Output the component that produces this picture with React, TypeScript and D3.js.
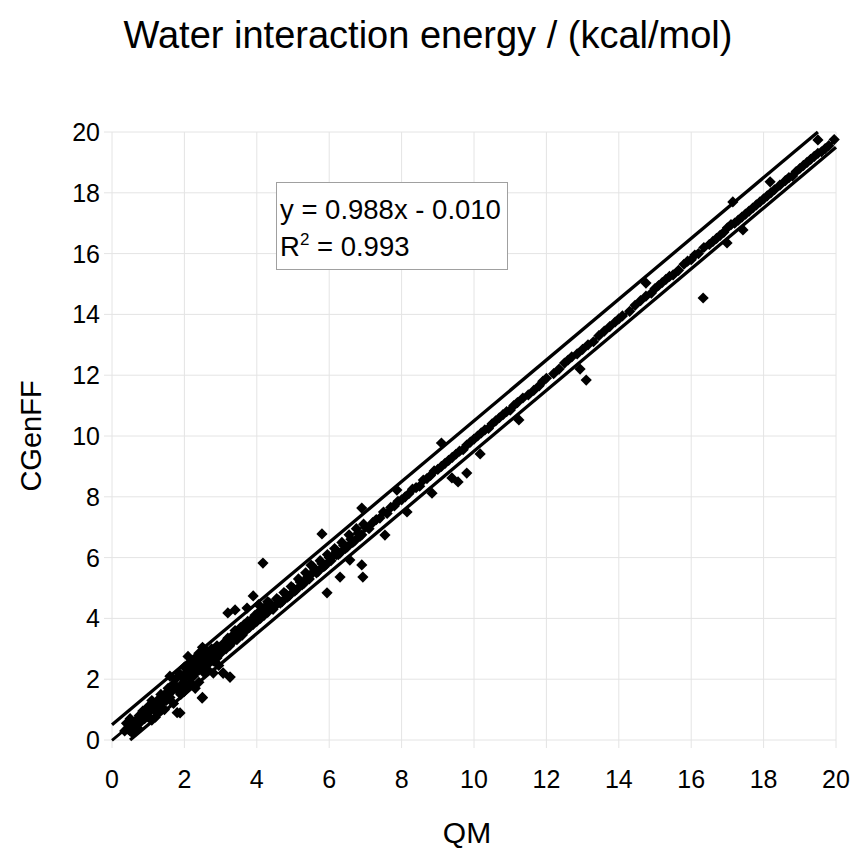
import React from "react";
import * as d3 from "d3";

const xTicks = [0, 2, 4, 6, 8, 10, 12, 14, 16, 18, 20];
const yTicks = [0, 2, 4, 6, 8, 10, 12, 14, 16, 18, 20];

const qmValues = [
  0.35, 0.4, 0.45, 0.5, 0.55, 0.6, 0.65, 0.7, 0.75, 0.8, 0.85, 0.9, 0.95, 1.0, 1.0, 1.05, 1.1, 1.1, 1.15, 1.2, 1.25, 1.3, 1.3, 1.35, 1.4, 1.45, 1.5, 1.5,
  1.55, 1.6, 1.6, 1.65, 1.7, 1.7, 1.75, 1.8, 1.8, 1.85, 1.9, 1.9, 1.95, 2.0, 2.0, 2.0, 2.05, 2.1, 2.1, 2.15, 2.2, 2.2, 2.2, 2.25, 2.3, 2.3, 2.3, 2.35,
  2.4, 2.4, 2.4, 2.45, 2.5, 2.5, 2.5, 2.55, 2.55, 2.6, 2.6, 2.65, 2.7, 2.7, 2.75, 2.8, 2.8, 2.85, 2.9, 2.9, 2.95, 3.0, 3.0, 3.07, 3.1, 3.15, 3.2, 3.25,
  3.26, 3.3, 3.35, 3.4, 3.45, 3.5, 3.55, 3.6, 3.65, 3.7, 3.75, 3.8, 3.85, 3.9, 3.95, 4.0, 4.05, 4.1, 4.15, 4.2, 4.25, 4.3, 4.4, 4.5, 4.6, 4.7, 4.8, 4.9,
  5.0, 5.1, 5.2, 5.3, 5.4, 5.5, 5.6, 5.7, 5.8, 5.9, 6.0, 6.1, 6.2, 6.3, 6.4, 6.5, 6.6, 6.7, 6.8, 6.9, 7.0, 7.1, 7.2, 7.4, 7.5, 7.6, 7.8, 7.9, 8.0, 8.2,
  8.4, 8.5, 8.6, 8.8, 8.9, 9.0, 9.2, 9.3, 9.4, 9.5, 9.7, 9.8, 10.0, 10.2, 10.4, 10.6, 10.8, 11.0, 11.2, 11.5, 11.8, 12.0, 12.2, 12.5, 12.7, 13.0, 13.3,
  13.6, 13.9, 14.1, 14.3, 14.6, 14.9, 15.1, 15.3, 15.5, 15.8, 16.0, 16.2, 16.5, 16.7, 16.9, 17.1, 17.3, 17.5, 17.7, 17.9, 18.1, 18.3, 18.6, 18.8, 19.0,
  19.2, 19.4, 19.6, 19.8, 19.95,
  16.33, 13.1, 12.93, 11.24, 10.17, 9.1, 9.8, 9.56, 9.39, 8.84, 5.8, 6.9, 7.87, 8.15, 7.54, 6.9, 6.3, 6.93, 6.57, 5.94, 4.17, 3.9, 3.2, 3.4, 3.73,
  2.49, 1.88, 3.26, 3.07, 19.5, 18.18, 17.15, 17.43, 16.99, 14.75, 4.05, 4.3, 5.5, 6.2, 1.2, 0.5, 2.35, 2.6,
  4.35, 4.45, 4.55, 4.65, 4.75, 4.85, 4.95, 5.05, 5.15, 5.25, 5.35, 5.45, 5.55, 5.65, 5.75, 5.85, 5.95, 6.05, 6.15, 6.25, 6.35, 6.45, 6.55, 6.65,
  6.75, 6.85, 6.95, 7.3, 7.7, 8.1, 8.3, 8.7, 9.1, 9.6, 9.9, 10.1, 10.3, 10.5, 10.7, 10.9, 11.1, 11.35, 11.65, 11.9, 12.35, 12.6, 12.85, 13.15, 13.45,
  13.75, 14.0, 14.45, 14.75, 15.0, 15.2, 15.4, 15.65, 15.9, 16.1, 16.35, 16.6, 16.8, 17.0, 17.2, 17.4, 17.6, 17.8, 18.0, 18.2, 18.45, 18.7, 18.9, 19.1,
  19.3, 19.5, 19.7,
];

const cgenffValues = [
  0.3, 0.55, 0.35, 0.7, 0.25, 0.5, 0.62, 0.4, 0.8, 0.6, 0.95, 0.7, 0.85, 1.1, 0.75, 0.95, 1.3, 0.65, 1.05, 1.2, 0.9, 1.35, 1.1, 1.5, 1.25, 1.0, 1.55, 1.3,
  1.7, 1.4, 2.1, 1.6, 1.85, 1.2, 2.0, 1.65, 0.9, 2.2, 1.8, 1.5, 2.05, 2.4, 1.9, 1.6, 2.2, 2.75, 1.75, 2.05, 2.5, 2.3, 1.85, 2.1, 2.6, 2.2, 1.7, 2.45,
  2.85, 2.3, 1.9, 2.6, 3.05, 2.45, 1.4, 2.7, 2.2, 2.5, 2.9, 2.3, 2.75, 2.55, 3.0, 2.6, 2.2, 2.9, 3.1, 2.7, 2.45, 3.0, 2.85, 2.2, 3.2, 3.0, 3.35, 3.1,
  2.07, 3.4, 3.25, 3.6, 3.3, 3.5, 3.7, 3.45, 3.8, 3.6, 3.9, 3.7, 3.95, 3.8, 4.1, 3.9, 4.2, 4.0, 4.3, 4.1, 4.4, 4.2, 4.45, 4.4, 4.6, 4.55, 4.8, 4.75,
  5.0, 4.95, 5.2, 5.15, 5.35, 5.45, 5.6, 5.55, 5.8, 5.75, 6.0, 6.05, 6.2, 6.15, 6.4, 6.35, 6.6, 6.55, 6.8, 6.75, 7.0, 6.95, 7.15, 7.3, 7.5, 7.45, 7.7, 7.85, 7.9, 8.1,
  8.3, 8.35, 8.55, 8.7, 8.85, 8.9, 9.1, 9.2, 9.3, 9.4, 9.55, 9.7, 9.9, 10.1, 10.25, 10.5, 10.7, 10.85, 11.1, 11.35, 11.65, 11.9, 12.05, 12.4, 12.6, 12.85, 13.1,
  13.45, 13.75, 13.95, 14.1, 14.45, 14.7, 14.95, 15.15, 15.3, 15.65, 15.8, 16.0, 16.3, 16.5, 16.7, 16.95, 17.1, 17.3, 17.5, 17.7, 17.9, 18.1, 18.4, 18.55, 18.8,
  19.0, 19.2, 19.35, 19.55, 19.75,
  14.54, 11.84, 12.2, 10.53, 9.41, 9.77, 8.78, 8.49, 8.62, 8.12, 6.78, 7.63, 8.22, 7.5, 6.74, 5.76, 5.36, 5.36, 5.92, 4.84, 5.82, 4.74, 4.18, 4.28, 4.34,
  1.38, 0.89, 2.07, 2.2, 19.74, 18.36, 17.7, 16.78, 16.35, 15.03, 4.45, 4.55, 5.75, 6.1, 0.75, 0.3, 2.7, 2.95,
  4.5, 4.3, 4.65, 4.5, 4.85, 4.7, 5.05, 4.9, 5.3, 5.1, 5.5, 5.3, 5.7, 5.5, 5.9, 5.7, 6.1, 5.9, 6.3, 6.1, 6.5, 6.3, 6.75, 6.5,
  6.95, 6.7, 7.1, 7.25, 7.65, 8.0, 8.25, 8.6, 9.0, 9.5, 9.8, 10.0, 10.2, 10.4, 10.6, 10.8, 11.0, 11.25, 11.5, 11.8, 12.2, 12.5, 12.7, 13.0, 13.3,
  13.6, 13.85, 14.3, 14.6, 14.85, 15.05, 15.25, 15.45, 15.75, 15.95, 16.2, 16.4, 16.6, 16.85, 17.0, 17.2, 17.4, 17.6, 17.8, 18.0, 18.25, 18.5, 18.7, 18.9,
  19.1, 19.3, 19.45,
];

const trendSlope = 0.988;
const trendIntercept = -0.01;
const bandOffset = 0.5;

const W = 853;
const H = 848;
const m = { left: 112, right: 836, top: 132, bottom: 740 };

export default function App() {
  const x = d3.scaleLinear().domain([0, 20]).range([m.left, m.right]);
  const y = d3.scaleLinear().domain([0, 20]).range([m.bottom, m.top]);
  const line = d3
    .line<[number, number]>()
    .x((d) => x(d[0]))
    .y((d) => y(d[1]));
  const pts = qmValues.map((q, i) => [q, cgenffValues[i]] as [number, number]);
  const upper: [number, number][] = [
    [0, bandOffset],
    [20 - bandOffset, 20],
  ];
  const lower: [number, number][] = [
    [bandOffset, 0],
    [20, 20 - bandOffset],
  ];
  const trend: [number, number][] = [
    [0, trendIntercept],
    [20, trendSlope * 20 + trendIntercept],
  ];
  const r = 5.6;
  const font = "Liberation Sans, Arial, sans-serif";
  const grid = "#e4e4e4";
  return (
    <svg width={W} height={H} style={{ position: "absolute", left: 0, top: 0, background: "#fff" }} fontFamily={font}>
      <rect x={0} y={0} width={W} height={H} fill="#fff" />
      <text x={428} y={48} textAnchor="middle" fontSize={38}>
        Water interaction energy / (kcal/mol)
      </text>
      {xTicks.map((t) => (
        <g key={"x" + t}>
          <line x1={x(t)} x2={x(t)} y1={m.top} y2={m.bottom + 8} stroke={grid} strokeWidth={1} />
          <text x={x(t)} y={788} textAnchor="middle" fontSize={25}>
            {t}
          </text>
        </g>
      ))}
      {yTicks.map((t) => (
        <g key={"y" + t}>
          <line x1={m.left - 8} x2={m.right} y1={y(t)} y2={y(t)} stroke={grid} strokeWidth={1} />
          <text x={100} y={y(t) + 9} textAnchor="end" fontSize={25}>
            {t}
          </text>
        </g>
      ))}
      <text x={467} y={843} textAnchor="middle" fontSize={30}>
        QM
      </text>
      <text transform={`translate(41,436) rotate(-90)`} textAnchor="middle" fontSize={29}>
        CGenFF
      </text>
      {pts.map((p, i) => {
        const cx = x(p[0]);
        const cy = y(p[1]);
        return (
          <path
            key={i}
            d={`M${cx},${cy - r}L${cx + r},${cy}L${cx},${cy + r}L${cx - r},${cy}Z`}
            fill="#000"
          />
        );
      })}
      <path d={line(upper) || ""} stroke="#000" strokeWidth={3.3} fill="none" />
      <path d={line(lower) || ""} stroke="#000" strokeWidth={3.3} fill="none" />
      <path d={line(trend) || ""} stroke="#000" strokeWidth={2.8} fill="none" strokeDasharray="14,5" />
      <rect x={276.5} y={182.5} width={231} height={87} fill="#fff" stroke="#a0a0a0" strokeWidth={1} />
      <text x={280} y={219} fontSize={27.5}>
        y = 0.988x - 0.010
      </text>
      <text x={280} y={256} fontSize={27.5}>
        R<tspan dy={-11} fontSize={17}>2</tspan>
        <tspan dy={11}> = 0.993</tspan>
      </text>
    </svg>
  );
}
